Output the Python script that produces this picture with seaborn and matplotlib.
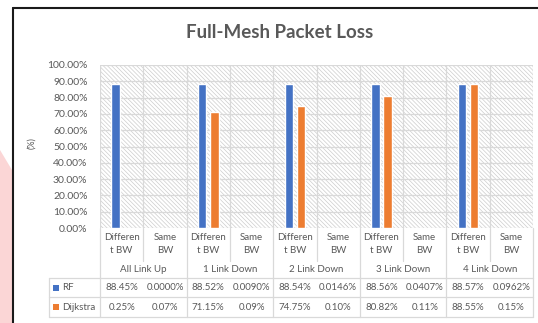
import numpy as np
import pandas as pd
import matplotlib
matplotlib.use("Agg")
import matplotlib.pyplot as plt
import seaborn as sns
from matplotlib.patches import Rectangle, Polygon
from matplotlib.lines import Line2D
from matplotlib.transforms import blended_transform_factory

# ---- data ----
groups = ["All Link Up", "1 Link Down", "2 Link Down", "3 Link Down", "4 Link Down"]
bandwidth = ["Differen\nt BW", "Same\nBW"]
series = ["RF", "Dijkstra"]
rf_different = [88.45, 88.52, 88.54, 88.56, 88.57]
rf_same = [0.0000, 0.0090, 0.0146, 0.0407, 0.0962]
dijkstra_different = [0.25, 71.15, 74.75, 80.82, 88.55]
dijkstra_same = [0.07, 0.09, 0.10, 0.11, 0.15]
rf_decimals = [2, 4]          # decimals shown per bandwidth column
dijkstra_decimals = [2, 2]
colors = ["#4472C4", "#ED7D31"]
yticks = list(range(0, 101, 10))

# ---- long-form table ----
values = {
    "RF": [rf_different, rf_same],
    "Dijkstra": [dijkstra_different, dijkstra_same],
}
decimals = {"RF": rf_decimals, "Dijkstra": dijkstra_decimals}
rows = []
cats = []
for gi, g in enumerate(groups):
    for bi, b in enumerate(bandwidth):
        key = f"{g}|{b}"
        cats.append(key)
        for s in series:
            rows.append({"cat": key, "series": s, "value": values[s][bi][gi],
                         "dec": decimals[s][bi]})
df = pd.DataFrame(rows)

# ---- figure ----
W, H = 538, 323
sns.set_theme(style="white")
plt.rcParams["font.family"] = ["Lato", "DejaVu Sans"]
plt.rcParams["hatch.linewidth"] = 0.5
TXT = "#595959"
GRID = "#d9d9d9"

fig = plt.figure(figsize=(W / 100, H / 100), dpi=100)
fig.patch.set_facecolor("white")

def fx(px):
    return px / W

def fy(py):
    return 1 - py / H

ax_l, ax_r, ax_t, ax_b = 100, 533, 65, 228
ax = fig.add_axes([fx(ax_l), fy(ax_b), (ax_r - ax_l) / W, (ax_b - ax_t) / H])
ax.set_facecolor("white")
ax.set_axisbelow(True)

# hatched plot area
ax.add_patch(Rectangle((0, 0), 1, 1, transform=ax.transAxes, facecolor="white",
                       edgecolor="#cdcdcd", hatch="\\" * 8, lw=0, zorder=0.1))

sns.barplot(data=df, x="cat", y="value", hue="series", order=cats,
            hue_order=series, palette=colors, saturation=1, width=0.56,
            gap=0.3, errorbar=None, legend=False, ax=ax, zorder=2)

ax.set_xlim(-0.5, len(cats) - 0.5)
ax.set_ylim(0, 100)
ax.set_yticks(yticks)
ax.set_yticklabels([f"{v:.2f}%" for v in yticks], color=TXT, fontsize=7.5)
ax.tick_params(axis="y", length=0, pad=9)
ax.set_xticks([])
ax.set_xlabel("")
ax.set_ylabel("")
ax.yaxis.grid(True, color=GRID, lw=0.9)
for k in range(len(cats) + 1):
    ax.axvline(k - 0.5, color=GRID, lw=0.9, zorder=0.5)
for sp in ax.spines.values():
    sp.set_visible(False)

# ---- data table under the axis ----
tr = blended_transform_factory(ax.transData, fig.transFigure)
row_top, row_mid, row_bot = 278, 297, 317
inner_bot = 261
tab_left = 49

def vline(xd, py0, py1):
    fig.add_artist(Line2D([xd, xd], [fy(py0), fy(py1)], transform=tr,
                          color=GRID, lw=0.9, clip_on=False))

def hline(px0, px1, py):
    fig.add_artist(Line2D([fx(px0), fx(px1)], [fy(py), fy(py)],
                          transform=fig.transFigure, color=GRID, lw=0.9))

for k in range(len(cats) + 1):
    if k % 2 == 0:
        vline(k - 0.5, ax_b, row_bot)
    else:
        vline(k - 0.5, ax_b, inner_bot)
for py in (row_top, row_mid, row_bot):
    hline(tab_left, ax_r, py)
fig.add_artist(Line2D([fx(tab_left)] * 2, [fy(row_top), fy(row_bot)],
                      transform=fig.transFigure, color=GRID, lw=0.9))

for i, key in enumerate(cats):
    lab = key.split("|")[1]
    ax.text(i, fy(244), lab, transform=tr, ha="center", va="center",
            fontsize=7, color=TXT, linespacing=1.55)
for gi, g in enumerate(groups):
    ax.text(2 * gi + 0.5, fy(269), g, transform=tr, ha="center",
            va="center", fontsize=7, color=TXT)

row_centers = [287.5, 307]
for si, s in enumerate(series):
    cy = row_centers[si]
    fig.add_artist(Rectangle((fx(53), fy(cy + 3)), fx(6), 6 / H,
                             transform=fig.transFigure, color=colors[si], lw=0))
    fig.text(fx(62), fy(cy), s, ha="left", va="center", fontsize=7, color=TXT)
    sub = df[df["series"] == s].set_index("cat")
    for i, key in enumerate(cats):
        v = sub.loc[key, "value"]
        d = int(sub.loc[key, "dec"])
        ax.text(i, fy(cy), f"{v:.{d}f}%", transform=tr, ha="center",
                va="center", fontsize=7, color=TXT)

# ---- titles ----
fig.text(fx(280), fy(33), "Full-Mesh Packet Loss", ha="center", va="center",
         fontsize=13.5, color=TXT, fontweight="bold")
fig.text(fx(32), fy(143), "(%)", ha="center", va="center", rotation=90,
         fontsize=6.5, color=TXT)

# ---- surrounding frame and page edge ----
fig.add_artist(Polygon([[0, fy(150)], [fx(12), fy(170)], [fx(12), 0], [0, 0]],
                       closed=True, transform=fig.transFigure,
                       facecolor="#fbd6d6", edgecolor="none", zorder=-1))
fig.add_artist(Line2D([fx(13), 1], [fy(8), fy(8)], transform=fig.transFigure,
                      color="#1a1a1a", lw=1.5))
fig.add_artist(Line2D([fx(13), fx(13)], [fy(8), 0], transform=fig.transFigure,
                      color="#1a1a1a", lw=1.5))

fig.savefig("out.png", dpi=100, facecolor="white")
